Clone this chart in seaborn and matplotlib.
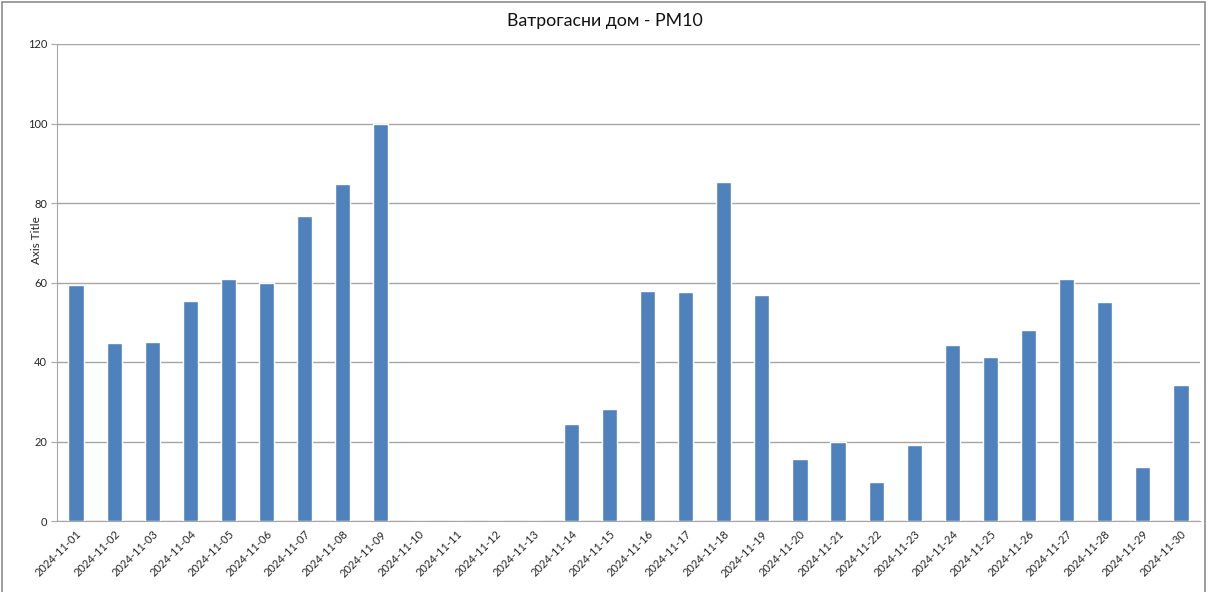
import numpy as np
import pandas as pd
import seaborn as sns
import matplotlib.pyplot as plt
from matplotlib.patches import Rectangle

# Dữ liệu
dates = [f"2024-11-{d:02d}" for d in range(1, 31)]
pm10 = [59.4, 44.9, 45.1, 55.4, 60.8, 60.0, 76.8, 84.8, 100.0, 0, 0, 0, 0,
        24.3, 28.3, 57.8, 57.7, 85.4, 56.8, 15.5, 19.9, 9.9, 19.1,
        44.2, 41.3, 48.0, 60.9, 55.2, 13.7, 34.1]
y_ticks = [0, 20, 40, 60, 80, 100, 120]

df = pd.DataFrame({"date": dates, "pm10": pm10})

sns.set_style("white")
plt.rcParams['font.family'] = ['Lato', 'DejaVu Sans']

fig = plt.figure(figsize=(12.09, 5.92), dpi=100)
ax = fig.add_axes([57 / 1209, 71 / 592, 1143 / 1209, 477 / 592])

sns.barplot(data=df, x="date", y="pm10", color="#4F81BD", width=0.4,
            saturation=1, ax=ax, zorder=3)

ax.set_ylim(0, 120)
ax.set_xlim(-0.5, len(dates) - 0.5)
ax.set_yticks(y_ticks)
ax.yaxis.grid(True, color="#A6A6A6", linewidth=1, zorder=0)
ax.set_axisbelow(True)

for s in ["top", "right"]:
    ax.spines[s].set_visible(False)
ax.spines["left"].set_color("#A6A6A6")
ax.spines["bottom"].set_color("#A6A6A6")

ax.tick_params(axis="y", left=True, length=4, color="#A6A6A6", labelsize=8,
               labelcolor="#262626", pad=3)
ax.tick_params(axis="x", bottom=False, labelsize=8, labelcolor="#262626", pad=2)
plt.setp(ax.get_xticklabels(), rotation=45, ha="right", rotation_mode="anchor")

ax.set_xlabel("")
ax.set_ylabel("Axis Title", fontsize=8.5, color="#262626")
ax.yaxis.set_label_coords(-0.013, 0.589)
fig.suptitle("Ватрогасни дом - PM10", fontsize=12.8, color="#111111", y=0.978)

# Khung viền của biểu đồ
fig.patches.append(Rectangle((2 / 1209, -0.01), 1203 / 1209, 1.0066,
                             transform=fig.transFigure, fill=False,
                             edgecolor="#8C8C8C", linewidth=1.2))

fig.savefig("out.png", dpi=100)
